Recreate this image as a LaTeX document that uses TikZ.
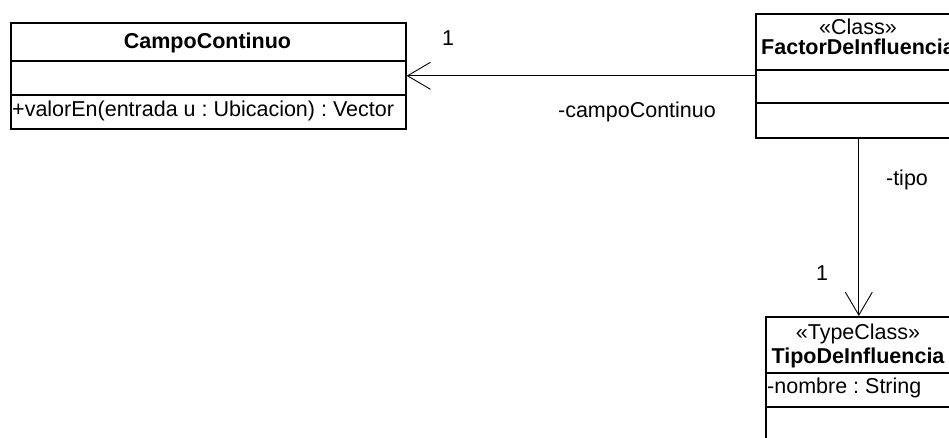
\documentclass[tikz,border=0pt]{standalone}
\usepackage{fontspec}
\setmainfont{Liberation Sans}
\usetikzlibrary{arrows.meta}
\frenchspacing
\tikzset{
  clase/.style={draw, line width=1.6pt, inner sep=0pt, anchor=north west},
  division/.style={line width=1.6pt},
  texto/.style={inner sep=0pt, anchor=base, font=\fontsize{21.5}{25}\selectfont},
  negrita/.style={texto, font=\fontsize{21.5}{25}\selectfont\bfseries},
  asociacion/.style={line width=0.9pt, -{Straight Barb[length=23pt,width=27pt,line width=0.9pt]}},
}

\begin{document}
\begin{tikzpicture}[x=1pt,y=-1pt]
		\useasboundingbox (0,0) rectangle (949,437);
		\node[clase, minimum width=395pt, minimum height=106pt] (campo) at (10,22) {}; % clase CampoContinuo
		\draw[division] (10,61) -- (405,61);
		\draw[division] (10,95) -- (405,95);
		\node[negrita] (campoNombre) at (207.5,48) {CampoContinuo};
		\node[texto, anchor=base west] (valorEn) at (12,116) {+valorEn(entrada u : Ubicacion) : Vector};
		\node[clase, minimum width=206pt, minimum height=124pt] (factor) at (755,13) {}; % clase FactorDeInfluencia
		\draw[division] (755,70) -- (961,70);
		\draw[division] (755,103) -- (961,103);
		\node[texto] (factorEstereotipo) at (858,34) {«Class»};
		\node[negrita] (factorNombre) at (858,54) {FactorDeInfluencia};
		\node[clase, minimum width=186pt, minimum height=140pt] (tipo) at (765,316) {}; % clase TipoDeInfluencia
		\draw[division] (765,373) -- (951,373);
		\draw[division] (765,407) -- (951,407);
		\node[texto] (tipoEstereotipo) at (858,339) {«TypeClass»};
		\node[negrita] (tipoNombre) at (858,363) {TipoDeInfluencia};
		\node[texto, anchor=base west] (nombre) at (767,393) {-nombre : String};
		\draw[asociacion] (factor.west) -- (campo.east); % asociacion campoContinuo
		\node[texto] (multCampo) at (448,45) {1};
		\node[texto] (rolCampo) at (637,117) {-campoContinuo};
		\draw[asociacion] (factor.south) -- (tipo.north); % asociacion tipo
		\node[texto] (rolTipo) at (907,185) {-tipo};
		\node[texto] (multTipo) at (822,280) {1};
\end{tikzpicture}
\end{document}
